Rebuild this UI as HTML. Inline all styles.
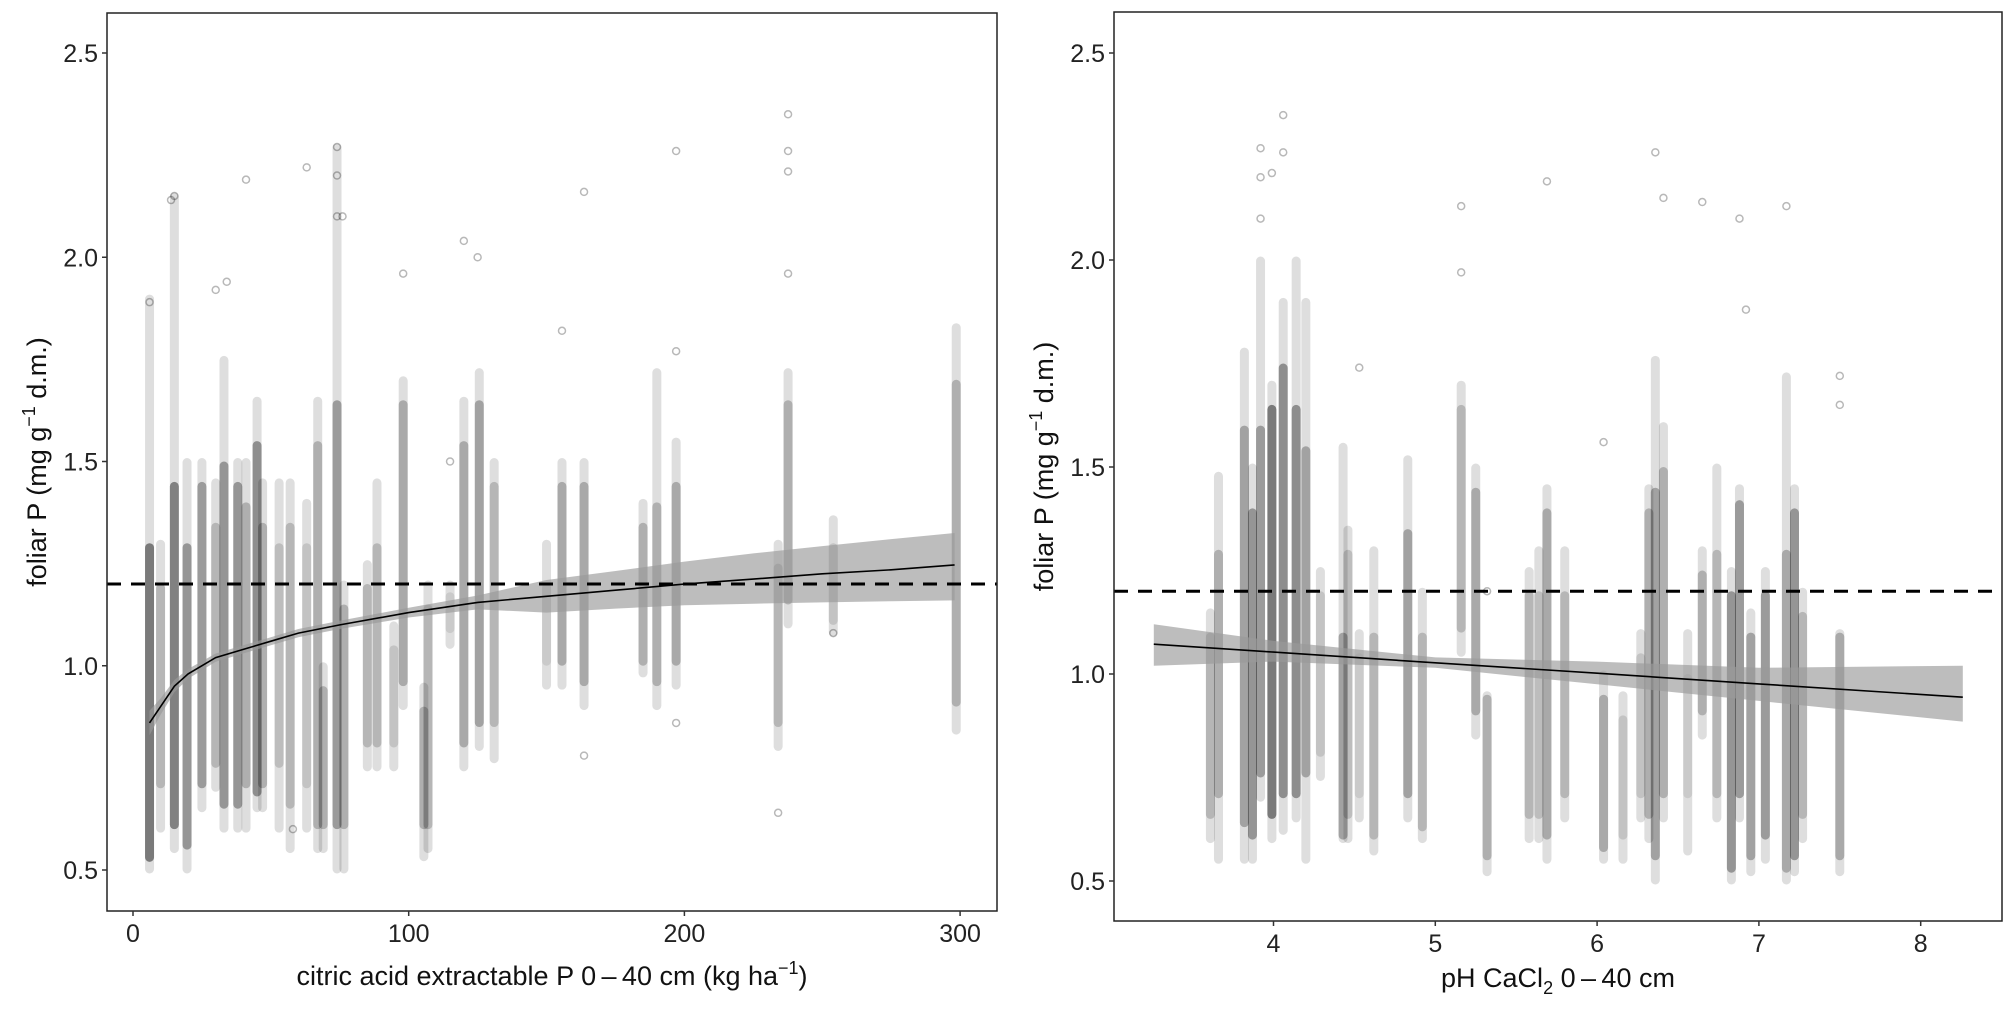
<!DOCTYPE html>
<html><head><meta charset="utf-8">
<style>
html,body{margin:0;padding:0;background:#fff;}
svg{display:block;font-family:"Liberation Sans",Arial,sans-serif;}
</style></head>
<body>
<svg id="fig" width="2009" height="1011" viewBox="0 0 2009 1011" xmlns="http://www.w3.org/2000/svg">
<rect width="2009" height="1011" fill="#fff"/>
<g id="left"></g>
<g id="right"></g>
</svg>
<script>
// ---------- data: left panel (citric acid extractable P) ----------
// [x, min, max, denseLow, denseHigh, darkness]
const leftColumns = [
[6,0.5,1.9,0.52,1.30,0.75],[10,0.6,1.3,0.7,1.2,0.3],[15,0.55,2.15,0.6,1.45,0.7],
[19.6,0.5,1.5,0.55,1.3,0.55],[25,0.65,1.5,0.7,1.45,0.5],[30,0.7,1.45,0.75,1.35,0.3],
[33,0.6,1.75,0.65,1.5,0.55],[38,0.6,1.5,0.65,1.45,0.55],[41,0.6,1.5,0.7,1.4,0.35],
[45,0.65,1.65,0.68,1.55,0.6],[47,0.65,1.45,0.7,1.35,0.35],[53,0.6,1.45,0.75,1.3,0.25],
[57,0.55,1.45,0.65,1.35,0.3],[63,0.6,1.4,0.7,1.3,0.2],[67,0.55,1.65,0.6,1.55,0.35],
[69,0.55,1.0,0.6,0.95,0.35],[74,0.5,2.27,0.6,1.65,0.5],[76.5,0.5,1.2,0.6,1.15,0.35],
[85,0.75,1.25,0.8,1.2,0.3],[88.5,0.75,1.45,0.8,1.3,0.3],[94.6,0.75,1.1,0.8,1.05,0.2],
[98,0.9,1.7,0.95,1.65,0.4],[105.5,0.53,0.95,0.6,0.9,0.35],[107,0.55,1.2,0.6,1.15,0.3],
[115,1.05,1.2,1.08,1.18,0.15],[120,0.75,1.65,0.8,1.55,0.4],[125.6,0.8,1.72,0.85,1.65,0.45],
[131,0.77,1.5,0.85,1.45,0.3],[150,0.95,1.3,1.0,1.2,0.15],[155.6,0.95,1.5,1.0,1.45,0.4],
[163.6,0.9,1.5,0.95,1.45,0.4],[185,0.98,1.4,1.0,1.35,0.35],[190,0.9,1.72,0.95,1.4,0.35],
[197,0.95,1.55,1.0,1.45,0.4],[234,0.8,1.3,0.85,1.25,0.3],[237.6,1.1,1.72,1.15,1.65,0.35],
[254,1.08,1.36,1.1,1.3,0.2],[298.6,0.84,1.83,0.9,1.7,0.35]
];
const leftOutX = [15,13.8,41,63,74,74,74,76,98,120,125,163.6,197,197,237.6,237.6,237.6,237.6,6,155.6,34,30,163.6,197,234,58,115,254];
const leftOutY = [2.15,2.14,2.19,2.22,2.27,2.2,2.1,2.1,1.96,2.04,2.0,2.16,2.26,1.77,2.35,2.26,2.21,1.96,1.89,1.82,1.94,1.92,0.78,0.86,0.64,0.6,1.5,1.08];
const leftFitX = [6,10,15,20,30,40,50,60,75,100,125,150,175,200,225,250,275,298];
const leftFitY = [0.86,0.90,0.95,0.98,1.02,1.04,1.06,1.08,1.10,1.13,1.155,1.17,1.185,1.20,1.212,1.225,1.235,1.247];
const leftFitLo = [0.83,0.88,0.935,0.968,1.01,1.03,1.05,1.07,1.09,1.118,1.138,1.13,1.14,1.148,1.152,1.155,1.158,1.16];
const leftFitHi = [0.89,0.92,0.965,0.992,1.03,1.05,1.07,1.09,1.11,1.142,1.172,1.21,1.232,1.255,1.275,1.293,1.31,1.325];
const leftXTicks = [0,100,200,300];

// ---------- data: right panel (pH) ----------
const rightColumns = [
[3.61,0.6,1.15,0.65,1.1,0.3],[3.66,0.55,1.48,0.7,1.3,0.35],[3.82,0.55,1.78,0.63,1.6,0.45],
[3.87,0.55,1.5,0.6,1.4,0.55],[3.92,0.7,2.0,0.75,1.6,0.5],[3.99,0.6,1.7,0.65,1.65,0.75],
[4.06,0.62,1.9,0.7,1.75,0.6],[4.14,0.65,2.0,0.7,1.65,0.6],[4.2,0.55,1.9,0.75,1.55,0.45],
[4.29,0.75,1.25,0.8,1.2,0.2],[4.43,0.6,1.55,0.6,1.1,0.45],[4.46,0.6,1.35,0.65,1.3,0.25],
[4.53,0.65,1.1,0.7,1.05,0.15],[4.62,0.57,1.3,0.6,1.1,0.3],[4.83,0.65,1.52,0.7,1.35,0.45],
[4.92,0.6,1.2,0.62,1.1,0.3],[5.16,1.05,1.7,1.1,1.65,0.3],[5.25,0.85,1.5,0.9,1.45,0.4],
[5.32,0.52,0.95,0.55,0.95,0.35],[5.58,0.6,1.25,0.65,1.2,0.3],[5.64,0.6,1.3,0.65,1.2,0.25],
[5.69,0.55,1.45,0.6,1.4,0.4],[5.80,0.65,1.3,0.7,1.2,0.3],[6.04,0.55,1.0,0.57,0.95,0.4],
[6.16,0.55,0.95,0.6,0.9,0.2],[6.27,0.65,1.1,0.7,1.05,0.2],[6.32,0.6,1.45,0.65,1.4,0.35],
[6.36,0.5,1.76,0.55,1.45,0.45],[6.41,0.65,1.6,0.7,1.5,0.35],[6.56,0.57,1.1,0.7,1.0,0.15],
[6.65,0.85,1.3,0.9,1.25,0.35],[6.74,0.65,1.5,0.7,1.3,0.3],[6.83,0.5,1.25,0.52,1.2,0.55],
[6.88,0.65,1.45,0.7,1.42,0.5],[6.95,0.52,1.15,0.55,1.1,0.45],[7.04,0.55,1.25,0.6,1.2,0.5],
[7.17,0.5,1.72,0.52,1.3,0.4],[7.22,0.52,1.45,0.55,1.4,0.55],[7.27,0.6,1.2,0.65,1.15,0.3],
[7.5,0.52,1.1,0.55,1.1,0.4]
];
const rightOutX = [3.92,3.92,3.92,4.06,4.06,3.99,5.16,5.16,5.69,6.36,6.41,6.65,6.88,7.17,6.92,4.53,6.04,5.32,7.5,7.5];
const rightOutY = [2.27,2.2,2.1,2.35,2.26,2.21,2.13,1.97,2.19,2.26,2.15,2.14,2.1,2.13,1.88,1.74,1.56,1.2,1.72,1.65];
const rightFitX = [3.26,4,5,6,7,8.26];
const rightFitY = [1.072,1.053,1.027,1.002,0.976,0.944];
const rightFitLo = [1.02,1.03,1.015,0.975,0.935,0.885];
const rightFitHi = [1.12,1.08,1.04,1.03,1.015,1.02];
const rightXTicks = [4,5,6,7,8];

const yTicks = [0.5,1.0,1.5,2.0,2.5];
const yTickLabels = ["0.5","1.0","1.5","2.0","2.5"];
const threshold = 1.2;

const NS = "http://www.w3.org/2000/svg";
function mk(tag, attrs, parent){
  const e = document.createElementNS(NS, tag);
  for (const k in attrs) e.setAttribute(k, attrs[k]);
  parent.appendChild(e);
  return e;
}

function drawPanel(g, cfg){
  const X = v => cfg.x0 + (v - cfg.xv0) * cfg.xs;
  const Y = v => cfg.y25 + (2.5 - v) * cfg.ys;
  const pts = mk("g", {}, g);
  
  
  cfg.cols.forEach(c => {
    const cx = X(c[0]);
    const r1 = mk("rect", {x: cx-4.5, y: Y(c[2])-3.5, width: 9, height: Y(c[1])-Y(c[2])+7, rx: 4.5, fill: "#000", "fill-opacity": 0.13}, pts);
    
    
    const r2 = mk("rect", {x: cx-4.5, y: Y(c[4]), width: 9, height: Y(c[3])-Y(c[4]), rx: 4.5, fill: "#000", "fill-opacity": (c[5]*0.6).toFixed(2)}, pts);
    
    
  });
  cfg.outX.forEach((xv, i) => {
    const c = mk("circle", {cx: X(xv), cy: Y(cfg.outY[i]), r: 3.5, fill: "none", stroke: "#000", "stroke-opacity": 0.28, "stroke-width": 1.5}, pts);
    
    
  });
  let d = "";
  cfg.fitX.forEach((xv,i) => { d += (i?"L":"M") + X(xv).toFixed(1) + "," + Y(cfg.fitHi[i]).toFixed(1); });
  for (let i = cfg.fitX.length-1; i >= 0; i--) d += "L" + X(cfg.fitX[i]).toFixed(1) + "," + Y(cfg.fitLo[i]).toFixed(1);
  const band = mk("path", {d: d+"Z", fill: "#999", "fill-opacity": 0.65, stroke: "none"}, g);
  
  
  let dl = "";
  cfg.fitX.forEach((xv,i) => { dl += (i?"L":"M") + X(xv).toFixed(1) + "," + Y(cfg.fitY[i]).toFixed(1); });
  const line = mk("path", {d: dl, fill: "none", stroke: "#000", "stroke-width": 1.6}, g);
  
  
  const hl = mk("line", {x1: cfg.left, x2: cfg.right, y1: Y(threshold), y2: Y(threshold), stroke: "#000", "stroke-width": 3, "stroke-dasharray": "14 10"}, g);
  
  
  const fr = mk("rect", {x: cfg.left, y: cfg.top, width: cfg.right-cfg.left, height: cfg.bottom-cfg.top, fill: "none", stroke: "#222", "stroke-width": 1.5}, g);
  
  
  yTicks.forEach((v,i) => {
    const t = mk("line", {x1: cfg.left-5, x2: cfg.left, y1: Y(v), y2: Y(v), stroke: "#333", "stroke-width": 1.5}, g);
    
    
    const tx = mk("text", {x: cfg.left-9, y: Y(v)+9, "text-anchor": "end", "font-size": 25, fill: "#222"}, g);
    tx.textContent = yTickLabels[i];
    
    
  });
  cfg.xTicks.forEach(v => {
    const t = mk("line", {x1: X(v), x2: X(v), y1: cfg.bottom, y2: cfg.bottom+5, stroke: "#333", "stroke-width": 1.5}, g);
    
    
    const tx = mk("text", {x: X(v), y: cfg.bottom+31, "text-anchor": "middle", "font-size": 25, fill: "#222"}, g);
    tx.textContent = String(v);
    
    
  });
  const yt = mk("text", {x: 0, y: 0, "text-anchor": "middle", "font-size": 27, fill: "#111", transform: "translate(" + cfg.ytx + "," + ((cfg.top+cfg.bottom)/2) + ") rotate(-90)"}, g);
  yt.innerHTML = 'foliar P (mg g<tspan dy="-11" font-size="18">\u22121</tspan><tspan dy="11"> d.m.)</tspan>';
  
  
  const xt = mk("text", {x: (cfg.left+cfg.right)/2, y: cfg.xty, "text-anchor": "middle", "font-size": 27, fill: "#111"}, g);
  xt.innerHTML = cfg.xtitle;
  
  
}

drawPanel(document.getElementById("left"), {
  left: 107, right: 997, top: 13, bottom: 911,
  x0: 133, xv0: 0, xs: 2.757, y25: 53, ys: 408.5,
  cols: leftColumns, outX: leftOutX, outY: leftOutY,
  fitX: leftFitX, fitY: leftFitY, fitLo: leftFitLo, fitHi: leftFitHi,
  xTicks: leftXTicks, ytx: 46, xty: 985,
  xtitle: 'citric acid extractable P 0\u2009\u2013\u200940 cm (kg ha<tspan dy="-11" font-size="18">\u22121</tspan><tspan dy="11">)</tspan>'
});
drawPanel(document.getElementById("right"), {
  left: 1114, right: 2002, top: 12, bottom: 921,
  x0: 1273.5, xv0: 4, xs: 161.8, y25: 53, ys: 414,
  cols: rightColumns, outX: rightOutX, outY: rightOutY,
  fitX: rightFitX, fitY: rightFitY, fitLo: rightFitLo, fitHi: rightFitHi,
  xTicks: rightXTicks, ytx: 1053, xty: 987,
  xtitle: 'pH CaCl<tspan dy="7" font-size="18">2</tspan><tspan dy="-7"> 0\u2009\u2013\u200940 cm</tspan>'
});
</script>
</body></html>
